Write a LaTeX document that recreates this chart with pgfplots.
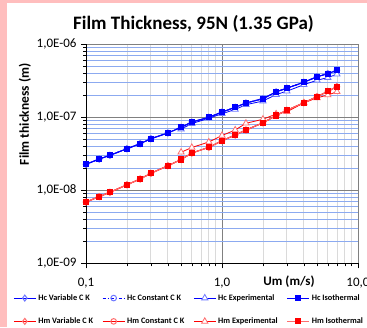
\documentclass[border=0pt]{standalone}
\usepackage{fontspec}
\setmainfont{Carlito}
\usepackage{pgfplots}
\usepackage{pgfplotstable}
\pgfplotsset{compat=1.18}
\definecolor{gridblue}{RGB}{140,170,240}
\definecolor{gridgray}{RGB}{218,218,218}
\definecolor{majgray}{RGB}{128,128,128}
\definecolor{pinkbg}{RGB}{255,190,190}
\definecolor{lblue}{RGB}{110,120,255}
\definecolor{lred}{RGB}{255,110,110}

\pgfplotstableread{
U H
0.1 2.27e-8
0.125 2.68e-8
0.15 3.02e-8
0.2 3.71e-8
0.25 4.35e-8
0.3 5.09e-8
0.4 6.1e-8
0.5 7.3e-8
0.6 8.6e-8
0.8 1.0e-7
1.0 1.18e-7
1.25 1.37e-7
1.5 1.57e-7
2.0 1.80e-7
2.5 2.23e-7
3.0 2.51e-7
4.0 3.02e-7
5.0 3.6e-7
6.0 3.96e-7
7.0 4.4e-7
}\hciso

\pgfplotstableread{
U H
0.5 6.9e-8
0.6 8.2e-8
0.8 9.7e-8
1.0 1.12e-7
1.25 1.28e-7
1.5 1.49e-7
2.0 1.67e-7
2.5 2.05e-7
3.0 2.28e-7
4.0 2.8e-7
5.0 3.22e-7
6.0 3.5e-7
7.0 3.9e-7
}\hcexp

\pgfplotstableread{
U H
0.1 6.9e-9
0.125 8.2e-9
0.15 9.4e-9
0.2 1.19e-8
0.25 1.43e-8
0.3 1.71e-8
0.4 2.17e-8
0.5 2.64e-8
0.6 3.24e-8
0.8 3.88e-8
1.0 4.78e-8
1.25 5.72e-8
1.5 6.7e-8
2.0 8.4e-8
2.5 1.06e-7
3.0 1.25e-7
4.0 1.58e-7
5.0 1.92e-7
6.0 2.27e-7
7.0 2.63e-7
}\hmiso

\pgfplotstableread{
U H
0.5 3.32e-8
0.6 3.86e-8
0.8 4.59e-8
1.0 5.63e-8
1.25 6.7e-8
1.5 8.28e-8
2.0 9.4e-8
2.5 1.11e-7
3.0 1.19e-7
4.0 1.58e-7
5.0 1.85e-7
6.0 2.02e-7
7.0 2.24e-7
}\hmexp

\begin{document}
\begin{tikzpicture}
\fill[pinkbg] (-86pt,-63.7pt) rectangle (281pt,263.3pt);
\fill[white] (-79pt,-63.7pt) rectangle (281pt,260.3pt);
\path[use as bounding box] (-86pt,-63.7pt) rectangle (281pt,263.3pt);
\begin{axis}[
  at={(0,0)}, anchor=south west,
  scale only axis, width=272pt, height=219pt,
  xmode=log, ymode=log,
  xmin=0.1, xmax=10, ymin=1e-9, ymax=1e-6,
  axis lines=left, axis line style={-, black, line width=0.8pt},
  xtick={0.1,1,10}, xticklabels={{0,1},{1,0},{10,0}},
  ytick={1e-9,1e-8,1e-7,1e-6},
  yticklabels={{1,0E-09},{1,0E-08},{1,0E-07},{1,0E-06}},
  tick label style={font=\fontsize{13}{15}\selectfont},
  xticklabel style={yshift=-6pt},
  yticklabel style={xshift=-1pt},
  tick align=outside, major tick length=5pt, minor tick length=3pt,
  tick style={black, line width=0.6pt},
  grid=both,
  major x grid style={majgray, line width=0.6pt},
  major y grid style={majgray, line width=0.6pt},
  minor x grid style={gridgray, line width=0.8pt},
  minor y grid style={gridblue, line width=0.8pt},
  legend columns=4,
  legend image code/.code={\draw[mark repeat=2,mark phase=2,#1] plot coordinates {(0pt,0pt) (11pt,0pt) (22pt,0pt)};},
  legend style={at={(axis description cs:-0.268,-0.1365)}, anchor=north west,
    draw=none, fill=none, inner sep=0pt, font=\bfseries\fontsize{8.3}{10}\selectfont, row sep=14pt,
    nodes={inner sep=1pt},
    /tikz/every even column/.append style={column sep=8pt},
    /tikz/every odd column/.append style={column sep=1pt}},
  legend cell align=left,
]
% Hc
\addplot[blue, line width=1pt, mark=diamond, mark size=3pt, mark options={solid, fill=white, draw=lblue}] table[x=U,y=H] {\hciso};
\addlegendentry{Hc Variable C K}
\addplot[blue, line width=1pt, dash dot, mark=o, mark size=2.8pt, mark options={solid, fill=none, draw=lblue}] table[x=U,y=H] {\hciso};
\addlegendentry{Hc Constant C K}
\addplot[blue, line width=0.8pt, mark=triangle*, mark size=3.6pt, mark options={solid, fill=white, draw=lblue, line width=0.8pt}] table[x=U,y=H] {\hcexp};
\addlegendentry{Hc Experimental}
\addplot[blue, line width=1pt, mark=square*, mark size=2.6pt, mark options={solid, fill=blue}] table[x=U,y=H] {\hciso};
\addlegendentry{Hc Isothermal}
% Hm
\addplot[red, line width=1pt, mark=diamond, mark size=3pt, mark options={solid, fill=white, draw=lred}] table[x=U,y=H] {\hmiso};
\addlegendentry{Hm Variable C K}
\addplot[red, line width=1pt, mark=o, mark size=2.8pt, mark options={solid, fill=none, draw=lred}] table[x=U,y=H] {\hmiso};
\addlegendentry{Hm Constant C K}
\addplot[red, line width=0.8pt, mark=triangle*, mark size=3.6pt, mark options={solid, fill=white, draw=lred, line width=0.8pt}] table[x=U,y=H] {\hmexp};
\addlegendentry{Hm Experimental}
\addplot[lred, line width=1pt, mark=square*, mark size=2.6pt, mark options={solid, fill=red, draw=red}] table[x=U,y=H] {\hmiso};
\addlegendentry{Hm Isothermal}
\end{axis}
\node[font=\bfseries\fontsize{19}{22}\selectfont] at (107.5pt,239.3pt) {Film Thickness, 95N (1.35 GPa)};
\node[font=\bfseries\fontsize{13.5}{16}\selectfont, rotate=90] at (-61pt,149pt) {Film thickness (m)};
\node[font=\bfseries\fontsize{13}{15}\selectfont] at (203pt,-18.7pt) {Um (m/s)};
\end{tikzpicture}
\end{document}
